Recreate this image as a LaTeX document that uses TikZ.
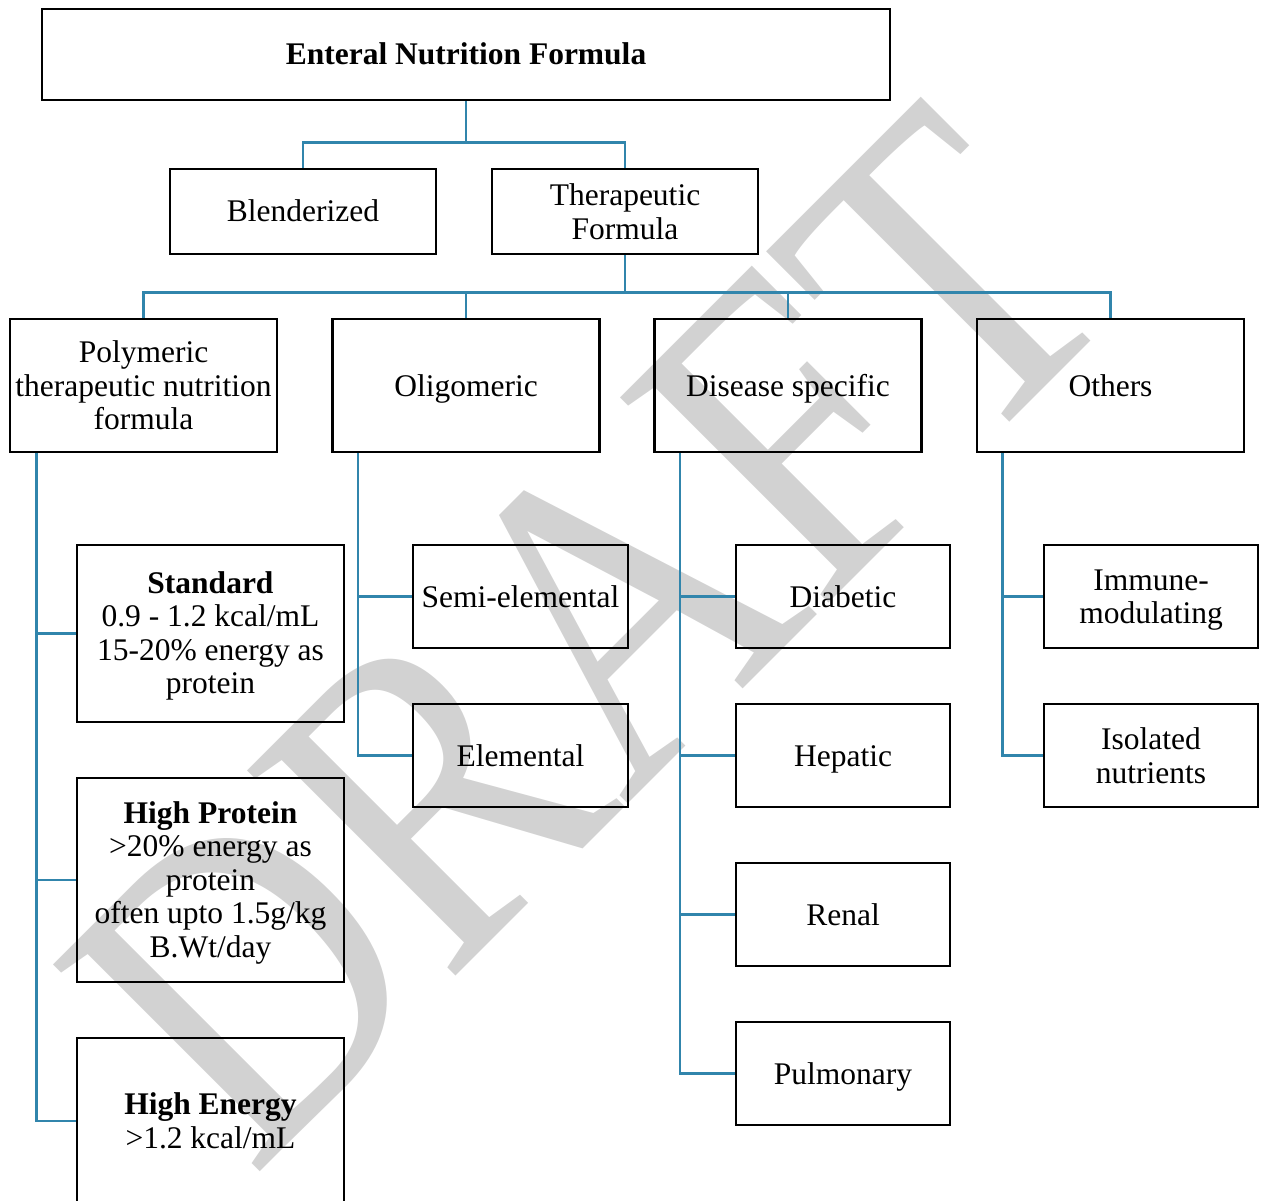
\documentclass[tikz,border=0pt]{standalone}
\usepackage{fontspec}
\setmainfont{Liberation Serif}
% struts giving the box lines a fixed ascent and descent
\newcommand{\wt}{\vrule width 0pt height 28pt depth 0pt\relax}
\newcommand{\wb}{\vrule width 0pt height 0pt depth 7pt\relax}
\definecolor{linkblue}{RGB}{49,133,172}
\definecolor{wmgray}{RGB}{210,210,210}
\begin{document}
\begin{tikzpicture}[x=1pt,y=-1pt,
  boxfont/.style={font=\fontsize{31.5}{33.5}\selectfont},
  box/.style={draw=black, line width=2.8pt, inner sep=0pt, align=center,
    boxfont, execute at begin node=\wt},
  frame/.style={draw=black, line width=2.8pt, inner sep=0pt},
  btext/.style={inner sep=0pt, align=center, boxfont},
  sz/.style 2 args={minimum width=#1pt, minimum height=#2pt},
  conn/.style={draw=linkblue, line width=2.4pt},
]
\useasboundingbox (0,0) rectangle (1261,1201);
\clip (0,0) rectangle (1261,1201);

% watermark
\node[text=wmgray, rotate=45, inner sep=0pt,
      font=\fontsize{446.7}{446.7}\selectfont] (wm) at (589,635)
      {\scalebox{0.85}[1]{DRAFT}};

% top levels
\node[box, sz={848}{91}] (top) at (466,54.5) {\bfseries Enteral Nutrition Formula\wb};
\node[box, sz={266}{85}] (blend) at (303,211.5) {Blenderized\wb};
\node[frame, sz={266}{85}] (ther) at (625,211.5) {};
\node[btext] (thert) at (ther) {Therapeutic\\Formula};

\node[frame, sz={267}{133}] (poly) at (143.5,385.5) {};
\node[btext] (polyt) at (poly) {Polymeric\\therapeutic nutrition\\formula};
\node[box, sz={267}{133}] (olig) at (466,385.5) {Oligomeric\wb};
\node[box, sz={267}{133}] (dis) at (788,385.5) {Disease specific\wb};
\node[box, sz={267}{133}] (oth) at (1110.5,385.5) {Others\wb};

% polymeric types
\node[frame, sz={267}{177}] (std) at (210.5,633.5) {};
\node[btext, yshift=-2.5pt] (stdt) at (std)
  {{\bfseries Standard}\\0.9 - 1.2 kcal/mL\\15-20\% energy as\\protein};
\node[frame, sz={267}{204}] (hp) at (210.5,880) {};
\node[btext, yshift=-2.5pt] (hpt) at (hp)
  {{\bfseries High Protein}\\>20\% energy as\\protein\\often upto 1.5g/kg\\B.Wt/day};
\node[frame, sz={267}{166}] (he) at (210.5,1121) {};
\node[btext] (het) at (he) {{\bfseries High Energy}\\>1.2 kcal/mL};

% oligomeric types
\node[box, sz={215}{103}] (semi) at (520.5,596.5) {Semi-elemental\wb};
\node[box, sz={215}{103}] (elem) at (520.5,755.5) {Elemental\wb};

% disease specific types
\node[box, sz={214}{103}] (diab) at (843,596.5) {Diabetic\wb};
\node[box, sz={214}{103}] (hep) at (843,755.5) {Hepatic\wb};
\node[box, sz={214}{103}] (ren) at (843,914.5) {Renal\wb};
\node[box, sz={214}{103}] (pul) at (843,1073.5) {Pulmonary\wb};

% other types
\node[frame, sz={214}{103}] (imm) at (1151,596.5) {};
\node[btext, yshift=-3.5pt] (immt) at (imm) {Immune-\\modulating};
\node[frame, sz={214}{103}] (iso) at (1151,755.5) {};
\node[btext] (isot) at (iso) {Isolated\\nutrients};

% connectors
\draw[conn] (top.south) -- ++(0,41) coordinate (j1);
\draw[conn] (blend.north) |- (j1) -| (ther.north);

\draw[conn] (ther.south) -- ++(0,37) coordinate (j2);
\draw[conn] (poly.north) |- (j2) -| (oth.north);
\draw[conn] (olig.north) -- (olig.north |- j2);
\draw[conn] (dis.north) -- (dis.north |- j2);

\draw[conn] ([xshift=28pt]poly.south west) coordinate (ps) |- (he.west);
\draw[conn] (ps |- std.west) -- (std.west);
\draw[conn] (ps |- hp.west) -- (hp.west);

\draw[conn] ([xshift=27pt]olig.south west) coordinate (os) |- (elem.west);
\draw[conn] (os |- semi.west) -- (semi.west);

\draw[conn] ([xshift=27pt]dis.south west) coordinate (ds) |- (pul.west);
\draw[conn] (ds |- diab.west) -- (diab.west);
\draw[conn] (ds |- hep.west) -- (hep.west);
\draw[conn] (ds |- ren.west) -- (ren.west);

\draw[conn] ([xshift=27pt]oth.south west) coordinate (ts) |- (iso.west);
\draw[conn] (ts |- imm.west) -- (imm.west);
\end{tikzpicture}
\end{document}
